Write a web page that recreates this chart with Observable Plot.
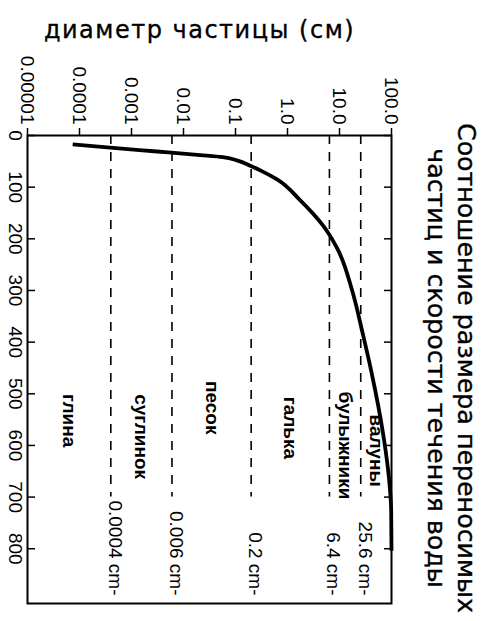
<!DOCTYPE html>
<html>
<head>
<meta charset="utf-8">
<script src="https://cdn.jsdelivr.net/npm/d3@7"></script>
<script src="https://cdn.jsdelivr.net/npm/@observablehq/plot@0.6"></script>
<style>
  html, body { margin: 0; padding: 0; background: #fff; overflow: hidden; }
  /* the chart is laid out upright, then turned a quarter turn clockwise */
  #chart {
    position: absolute; left: 0; top: 0;
    width: 621px; height: 487px;
    transform-origin: 0 0;
    transform: translate(487px, 0) rotate(90deg);
    background: #fff;
  }
  #title {
    box-sizing: border-box;
    width: 621px; height: 66px;
    padding: 6px 0 0 115px;
    font-family: "DejaVu Sans", sans-serif;
    font-size: 25.3px; line-height: 30px;
    text-align: center; color: #000;
    -webkit-text-stroke: 0.35px #000;
    white-space: nowrap;
  }
  #plot svg { display: block; }
</style>
</head>
<body>
<div id="chart">
  <div id="title">Соотношение размера переносимых<br>частиц и скорости течения воды</div>
  <div id="plot"></div>
</div>
<script>
// Axis ticks
const diameterTicks = [0.00001, 0.0001, 0.001, 0.01, 0.1, 1, 10, 100];
const diameterTickLabels = ["0.00001", "0.0001", "0.001", "0.01", "0.1", "1.0", "10.0", "100.0"];
const speedTicks = [0, 100, 200, 300, 400, 500, 600, 700, 800];
const diameterTitle = "диаметр частицы (см)";

// Curve: flow speed vs. largest particle diameter carried
const curveSpeed = [17, 24, 31, 38, 42, 48, 59, 69, 85, 125, 174, 222, 300, 387, 455, 523, 591, 658, 726, 804];
const curveDiameter = [0.000074, 0.00044, 0.0031, 0.021, 0.057, 0.106, 0.198, 0.32, 0.63, 1.74, 4.8, 9.4, 17.5, 28.5, 40.6, 55.5, 72.3, 88.3, 98.6, 100];

// Size-class boundaries
const boundaryDiameter = [0.0004, 0.006, 0.2, 6.4, 25.6];
const boundaryLabels = ["0.0004 cm-", "0.006 cm-", "0.2 cm-", "6.4 cm-", "25.6 cm-"];

// Size-class names
const classNames = ["глина", "суглинок", "песок", "галька", "булыжники", "валуны"];
const classSpeed = [552, 583, 527, 566, 600, 610];
const classDiameter = [0.000063, 0.00155, 0.035, 1.13, 12.8, 50.6];

const curve = curveSpeed.map((v, i) => ({speed: v, diameter: curveDiameter[i]}));
const boundaries = boundaryDiameter.map((d, i) => ({diameter: d, label: boundaryLabels[i]}));
const classes = classNames.map((name, i) => ({name, speed: classSpeed[i], diameter: classDiameter[i]}));
const tickLabel = new Map(diameterTicks.map((t, i) => [t, diameterTickLabels[i]]));

const numFont = "'Liberation Sans', Arial, sans-serif";

const svg = Plot.plot({
  width: 621,
  height: 421,
  marginLeft: 135,
  marginRight: 18,
  marginTop: 29,
  marginBottom: 28,
  style: {background: "#fff", color: "#000", overflow: "visible"},
  x: {domain: [0, 906]},
  y: {type: "log", domain: [0.00001, 100]},
  marks: [
    Plot.axisY({
      anchor: "left", ticks: diameterTicks, tickFormat: (d) => tickLabel.get(d),
      tickSize: 7, tickPadding: 4, fontSize: 19, fontFamily: numFont,
      strokeWidth: 1.5, label: null
    }),
    Plot.axisX({
      anchor: "bottom", ticks: speedTicks, tickFormat: (d) => String(d),
      tickSize: -7, tickPadding: 12, fontSize: 19, fontFamily: numFont,
      strokeWidth: 1.5, label: null
    }),
    Plot.axisX({
      anchor: "top", ticks: speedTicks, tickFormat: () => "",
      tickSize: -7, strokeWidth: 1.5, label: null
    }),
    Plot.ruleY(boundaries, {
      y: "diameter", x1: 0, x2: 700,
      stroke: "#000", strokeWidth: 1.6, strokeDasharray: "9,8"
    }),
    Plot.text(boundaries, {
      y: "diameter", text: "label", frameAnchor: "right",
      textAnchor: "end", lineAnchor: "middle", dx: -8, dy: -4,
      fontSize: 19, fontFamily: numFont, fill: "#000"
    }),
    Plot.text(classes, {
      x: "speed", y: "diameter", text: "name",
      textAnchor: "middle", lineAnchor: "middle",
      fontSize: 19, fontWeight: "bold", fontFamily: numFont, fill: "#000"
    }),
    Plot.line(curve, {
      x: "speed", y: "diameter", curve: "monotone-x",
      stroke: "#000", strokeWidth: 3.8, strokeLinecap: "butt"
    }),
    Plot.frame({stroke: "#000", strokeWidth: 2}),
    Plot.text([diameterTitle], {
      frameAnchor: "left", rotate: -90, textAnchor: "middle", lineAnchor: "bottom",
      dx: -98, dy: 10, fontSize: 24, fontFamily: "'DejaVu Sans', sans-serif",
      fill: "#000", stroke: "#000", strokeWidth: 0.35
    })
  ]
});

d3.select(svg).selectAll("text")
  .filter(function () { return this.textContent === diameterTitle; })
  .attr("letter-spacing", "1.5px");

document.getElementById("plot").appendChild(svg);
</script>
</body>
</html>
